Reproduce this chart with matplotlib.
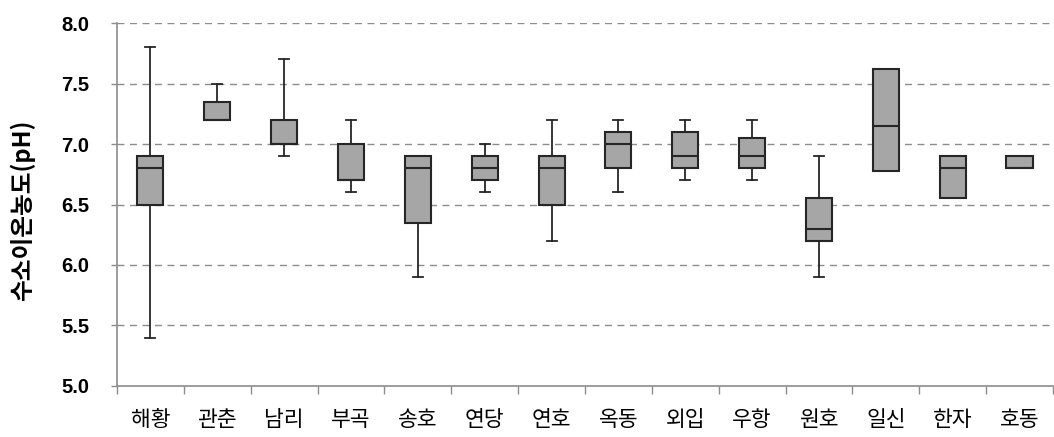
import matplotlib
matplotlib.use("Agg")
from matplotlib import pyplot as plt

plt.rcParams['font.family'] = ['Noto Sans CJK KR', 'DejaVu Sans']

sites = ['해황', '관춘', '남리', '부곡', '송호', '연당', '연호',
         '옥동', '외입', '우항', '원호', '일신', '한자', '호동']
whis_lo = [5.4, 7.2, 6.9, 6.6, 5.9, 6.6, 6.2, 6.6, 6.7, 6.7, 5.9, 6.78, 6.55, 6.8]
q1 = [6.5, 7.2, 7.0, 6.7, 6.35, 6.7, 6.5, 6.8, 6.8, 6.8, 6.2, 6.78, 6.55, 6.8]
med = [6.8, 7.2, 7.0, 6.7, 6.8, 6.8, 6.8, 7.0, 6.9, 6.9, 6.3, 7.15, 6.8, 6.8]
q3 = [6.9, 7.35, 7.2, 7.0, 6.9, 6.9, 6.9, 7.1, 7.1, 7.05, 6.55, 7.62, 6.9, 6.9]
whis_hi = [7.8, 7.5, 7.7, 7.2, 6.9, 7.0, 7.2, 7.2, 7.2, 7.2, 6.9, 7.62, 6.9, 6.9]
yticks = [5.0, 5.5, 6.0, 6.5, 7.0, 7.5, 8.0]

stats = []
for i, name in enumerate(sites):
    stats.append({'label': name, 'whislo': whis_lo[i], 'q1': q1[i], 'med': med[i],
                  'q3': q3[i], 'whishi': whis_hi[i], 'fliers': []})

fig = plt.figure(figsize=(10.54, 4.37), dpi=100)
ax = fig.add_axes([0.111, 0.117, 0.888, 0.830])

edge = '#262626'
ax.bxp(stats, positions=range(1, len(sites) + 1), widths=0.39, capwidths=0.15,
       patch_artist=True, showfliers=False,
       boxprops=dict(facecolor='#a6a6a6', edgecolor=edge, linewidth=1.5),
       medianprops=dict(color=edge, linewidth=1.5),
       whiskerprops=dict(color=edge, linewidth=1.3),
       capprops=dict(color=edge, linewidth=1.3), zorder=3)

ax.set_xlim(0.5, len(sites) + 0.5)
ax.set_ylim(5.0, 8.0)
ax.set_yticks(yticks)
ax.set_yticklabels(['%.1f' % v for v in yticks], fontsize=14.5, fontweight='bold',
                   family=['Liberation Sans', 'DejaVu Sans'])
ax.set_xticks(range(1, len(sites) + 1))
ax.set_xticklabels(sites, fontsize=15.5, fontweight='medium')
ax.set_xticks([i + 0.5 for i in range(len(sites) + 1)], minor=True)
ax.tick_params(axis='x', which='major', length=0, pad=17)
ax.tick_params(axis='x', which='minor', length=6, color='#8c8c8c', width=1)
ax.tick_params(axis='y', length=4, color='#8c8c8c', width=1, pad=16)

for v in yticks[1:]:
    ax.axhline(v, color='#8c8c8c', linestyle=(0, (5, 4)), linewidth=1, zorder=1)

for s in ['top', 'right']:
    ax.spines[s].set_visible(False)
for s in ['left', 'bottom']:
    ax.spines[s].set_color('#8c8c8c')
    ax.spines[s].set_linewidth(1.2)

ax.set_ylabel('수소이온농도(pH)', fontsize=17, fontweight='bold')
ax.yaxis.set_label_coords(-0.088, 0.485)

fig.savefig('out.png', dpi=100)
